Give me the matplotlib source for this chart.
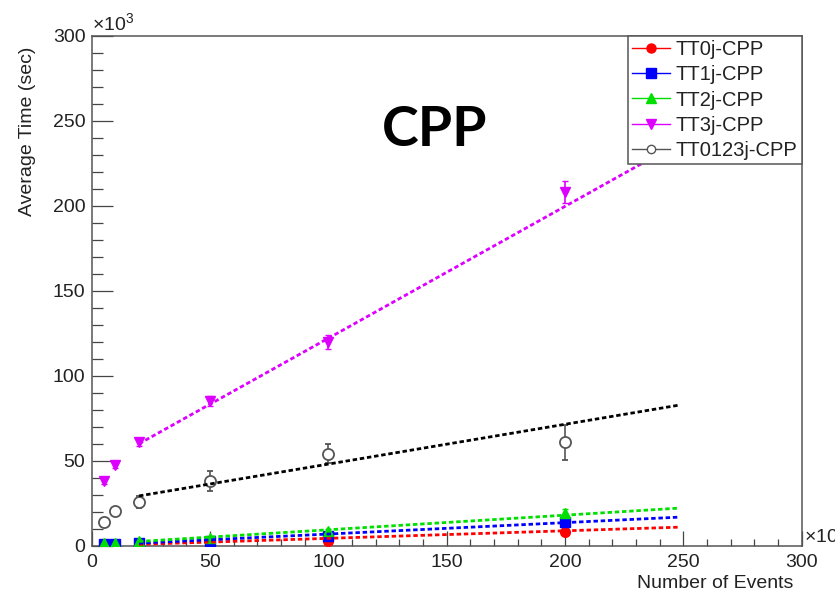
import numpy as np
import matplotlib.pyplot as plt
from matplotlib.lines import Line2D

plt.rcParams['font.family'] = ['Liberation Sans', 'DejaVu Sans']

# Number of events (x 10^3) and average time (x 10^3 sec)
events = [5, 10, 20, 50, 100, 200]

names = ["TT0j-CPP", "TT1j-CPP", "TT2j-CPP", "TT3j-CPP", "TT0123j-CPP"]
colors = ["#ff0000", "#0000ff", "#00e000", "#dd00ff", "#555555"]
markers = ["o", "s", "^", "v", "o"]

tt0j = [0.3, 0.5, 0.5, 1.5, 3.0, 8.3]
tt1j = [0.8, 1.0, 1.5, 3.0, 5.5, 14.0]
tt2j = [1.5, 1.8, 2.5, 4.5, 8.5, 19.5]
tt3j = [37.8, 47.3, 60.8, 85.0, 120.0, 208.0]
tt0123j = [13.8, 20.5, 25.6, 38.2, 54.2, 60.8]

err0j = [0.2, 0.2, 0.3, 0.5, 0.8, 1.2]
err1j = [0.2, 0.3, 0.4, 0.6, 1.0, 1.5]
err2j = [0.3, 0.4, 0.5, 0.8, 1.2, 2.0]
err3j = [1.5, 1.5, 2.0, 3.0, 4.0, 6.5]
err0123j = [1.0, 1.0, 3.6, 5.9, 5.7, 10.5]

# linear fit lines, end points
fit_x = [20, 248]
fit0j = [0.8, 10.9]
fit1j = [1.5, 16.8]
fit2j = [2.5, 22.1]
fit3j = [60.0, 237.0]
fit0123j = [29.3, 82.7]

series = [tt0j, tt1j, tt2j, tt3j, tt0123j]
errors = [err0j, err1j, err2j, err3j, err0123j]
fits = [fit0j, fit1j, fit2j, fit3j, fit0123j]
fit_colors = ["#ff0000", "#0000ff", "#00e000", "#dd00ff", "#000000"]

fig = plt.figure(figsize=(8.35, 5.92), dpi=100)
ax = fig.add_axes([0.1098, 0.0782, 0.8503, 0.861])

for i in range(5):
    open_marker = (i == 4)
    ax.errorbar(events, series[i], yerr=errors[i], fmt=markers[i], color=colors[i],
                ms=8 if open_marker else 7,
                mfc="white" if open_marker else colors[i],
                mec=colors[i], mew=1.3 if open_marker else 1,
                elinewidth=1.2, capsize=2.5, capthick=1.2, zorder=3)
    ax.plot(fit_x, fits[i], color=fit_colors[i], lw=2.0, ls=(0, (1.6, 1.0)), zorder=4)

ax.set_xlim(0, 300)
ax.set_ylim(0, 300)
ax.set_xticks(np.arange(0, 301, 50))
ax.set_yticks(np.arange(0, 301, 50))
ax.set_xticks(np.arange(0, 301, 10), minor=True)
ax.set_yticks(np.arange(0, 301, 10), minor=True)

ax.tick_params(axis="both", which="both", direction="in", colors="#444444",
               labelcolor="#222222", labelsize=14, width=0.9)
ax.tick_params(axis="y", which="major", length=15, pad=4.5)
ax.tick_params(axis="y", which="minor", length=8)
ax.tick_params(axis="x", which="major", length=10.5, pad=6)
ax.tick_params(axis="x", which="minor", length=5.3)
for sp in ax.spines.values():
    sp.set_color("#555555")
    sp.set_linewidth(1.1)

# exponent labels
ax.text(0.0, 1.003, r"$\mathregular{\times10^{3}}$", transform=ax.transAxes,
        ha="left", va="bottom", fontsize=14, color="#222222")
ax.text(1.003, 0.0, r"$\mathregular{\times10^{3}}$", transform=ax.transAxes,
        ha="left", va="bottom", fontsize=14, color="#222222")

# axis titles
ax.text(-0.091, 0.8126, "Average Time (sec)", transform=ax.transAxes, rotation=90,
        ha="center", va="center", fontsize=14, color="#222222")
fig.text(0.9497, 0.0068, "Number of Events", ha="right", va="baseline",
         fontsize=14, color="#222222")

# big label
fig.text(0.52, 0.78, "CPP", ha="center", va="center", fontsize=40,
         fontweight="bold", family="Lato", color="black")

handles = []
for i in range(5):
    open_marker = (i == 4)
    handles.append(Line2D([], [], color=colors[i], lw=1, marker=markers[i],
                          ms=6 if open_marker else 6.5,
                          mfc="white" if open_marker else colors[i],
                          mec=colors[i]))
leg = ax.legend(handles, names, loc="upper right", bbox_to_anchor=(1.0, 1.0),
                borderaxespad=0, fancybox=False, fontsize=14.5, handlelength=1.9,
                handletextpad=0.3, labelspacing=0.31, borderpad=0.2,
                framealpha=1, edgecolor="#555555")
leg.get_frame().set_linewidth(1.1)
for t in leg.get_texts():
    t.set_color("#222222")
leg.set_zorder(10)

fig.savefig("out.png", dpi=100)
